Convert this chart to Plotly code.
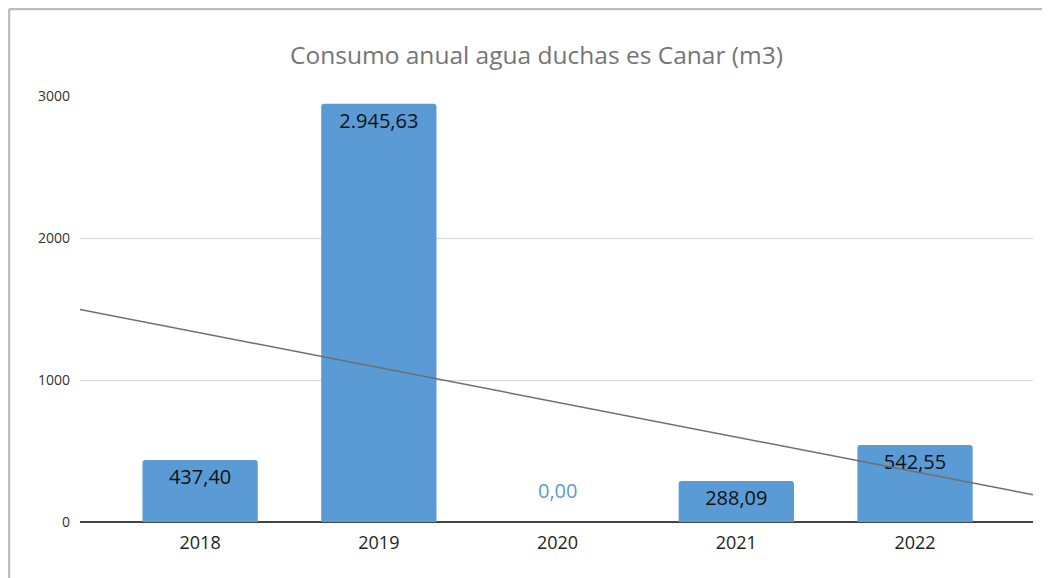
import numpy as np
import plotly.graph_objects as go

years = ["2018", "2019", "2020", "2021", "2022"]
values = [437.40, 2945.63, 0.00, 288.09, 542.55]
labels = ["437,40", "2.945,63", "0,00", "288,09", "542,55"]
y_ticks = [0, 1000, 2000, 3000]

xpos = list(range(len(years)))
x_lo, x_hi = -0.672, 4.66

slope, intercept = np.polyfit(xpos, values, 1)
trend_x = [x_lo, x_hi]
trend_y = [intercept + slope * x for x in trend_x]

# page body has an 8px margin; compensate
OFF = 8
W, H = 1050 - OFF, 578 - OFF
L, T = 80 - OFF, 96 - OFF
R = W - (1033 - OFF)
B = H - (522 - OFF)
pw, ph = W - L - R, H - T - B

fig = go.Figure()
fig.add_trace(go.Bar(
    x=xpos, y=values, width=0.645,
    marker=dict(color="#5B9BD5", line=dict(width=0)),
    text=[l if v > 0 else "" for l, v in zip(labels, values)],
    textposition="inside", insidetextanchor="end",
    textfont=dict(size=20, color="#111111", family="Open Sans"),
    textangle=0, cliponaxis=False,
))
for x, v, l in zip(xpos, values, labels):
    if v == 0:
        fig.add_annotation(x=x, y=225, text=l, showarrow=False,
                           font=dict(size=20, color="#5B9BD5", family="Open Sans"))
fig.add_trace(go.Scatter(
    x=trend_x, y=trend_y, mode="lines",
    line=dict(color="#6e6e6e", width=1.5), hoverinfo="skip",
))

bx = (9 - 80) / pw
by = (522 - 9) / ph

fig.update_layout(
    width=W, height=H,
    margin=dict(l=L, r=R, t=T, b=B),
    paper_bgcolor="white", plot_bgcolor="white",
    showlegend=False, barcornerradius=3,
    title=dict(text="Consumo anual agua duchas es Canar (m3)", x=(536.5 - OFF) / W, xanchor="center",
               y=1 - (55 - OFF) / H, yanchor="middle",
               font=dict(size=24.5, color="#757575", family="Open Sans")),
    font=dict(family="Open Sans"),
    xaxis=dict(range=[x_lo, x_hi], tickvals=xpos, ticktext=years,
               showgrid=False, zeroline=False, showline=False,
               tickfont=dict(size=18, color="#222222"), ticks="", ticklabelstandoff=8),
    yaxis=dict(range=[0, 3000], tickvals=y_ticks, showgrid=True,
               gridcolor="#d4d4d4", gridwidth=1, zeroline=True,
               zerolinecolor="#444444", zerolinewidth=2, showline=False,
               tickfont=dict(size=14, color="#333333"), ticks="", ticklabelstandoff=9),
    shapes=[
        dict(type="line", xref="paper", yref="paper",
             x0=bx, x1=1.2, y0=by, y1=by,
             line=dict(color="#bdbdbd", width=2.5)),
        dict(type="line", xref="paper", yref="paper",
             x0=bx, x1=bx, y0=by, y1=-0.3,
             line=dict(color="#bdbdbd", width=2.5)),
    ],
)
fig.write_html("out.html")
